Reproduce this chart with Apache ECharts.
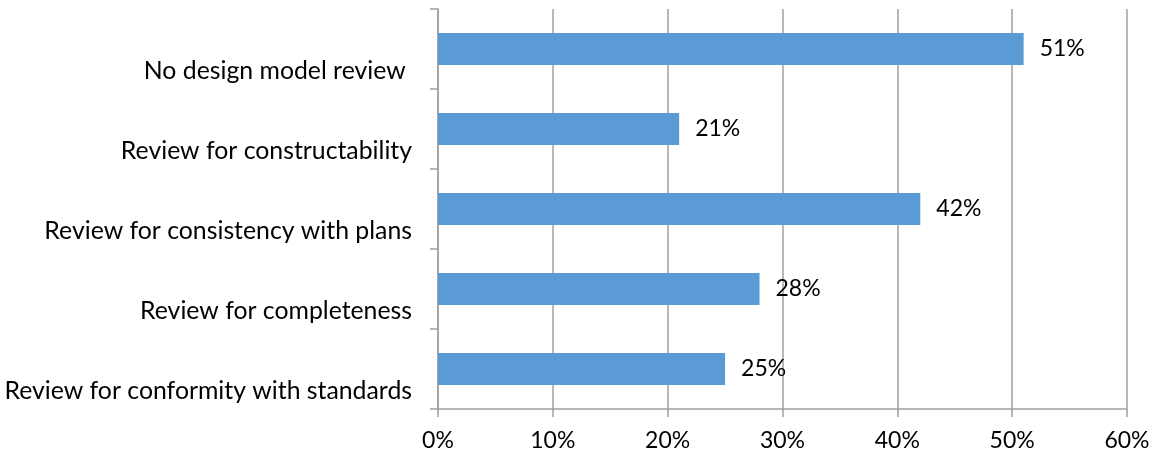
<!DOCTYPE html>
<html>
<head>
<meta charset="utf-8">
<script src="https://cdn.jsdelivr.net/npm/echarts@6/dist/echarts.min.js"></script>
<style>
  html, body { margin: 0; padding: 0; background: #fff; }
  #chart { width: 1157px; height: 460px; }
</style>
</head>
<body>
<div id="chart"></div>
<script>
// Review types, listed top to bottom
const categories = [
  'No design model review ',
  'Review for constructability',
  'Review for consistency with plans',
  'Review for completeness',
  'Review for conformity with standards'
];
// Share of respondents, percent
const shares = [51, 21, 42, 28, 25];
// Value axis ticks, percent
const tickValues = [0, 10, 20, 30, 40, 50, 60];

const FONT = 'Lato, "Open Sans", sans-serif';
const GRID_GRAY = '#a0a0a0';

const chart = echarts.init(document.getElementById('chart'), null, { renderer: 'canvas' });
chart.setOption({
  animation: false,
  backgroundColor: '#ffffff',
  grid: { left: 438, right: 30, top: 9, bottom: 51, containLabel: false },
  xAxis: {
    type: 'value',
    min: tickValues[0],
    max: tickValues[tickValues.length - 1],
    interval: 10,
    axisLine: { show: true, lineStyle: { color: GRID_GRAY, width: 1.5 } },
    axisTick: { show: true, length: 8, lineStyle: { color: GRID_GRAY, width: 1.5 } },
    splitLine: { show: true, lineStyle: { color: GRID_GRAY, width: 1.5 } },
    axisLabel: {
      margin: 20,
      color: '#000',
      fontFamily: FONT,
      fontSize: 23,
      formatter: v => v + '%'
    }
  },
  yAxis: {
    type: 'category',
    inverse: true,
    data: categories,
    axisLine: { show: true, lineStyle: { color: GRID_GRAY, width: 1.5 } },
    axisTick: { show: true, length: 8, lineStyle: { color: GRID_GRAY, width: 1.5 } },
    splitLine: { show: false },
    axisLabel: {
      margin: 26,
      color: '#000',
      fontFamily: FONT,
      fontSize: 24.8,
      // category names sit below the middle of their band
      verticalAlign: 'top',
      lineHeight: 44
    }
  },
  series: [{
    type: 'bar',
    data: shares,
    barCategoryGap: '60%',
    itemStyle: { color: '#5b9bd5' },
    label: {
      show: true,
      position: 'right',
      distance: 16,
      color: '#000',
      fontFamily: FONT,
      fontSize: 23,
      formatter: p => p.value + '%'
    }
  }]
});
</script>
</body>
</html>
